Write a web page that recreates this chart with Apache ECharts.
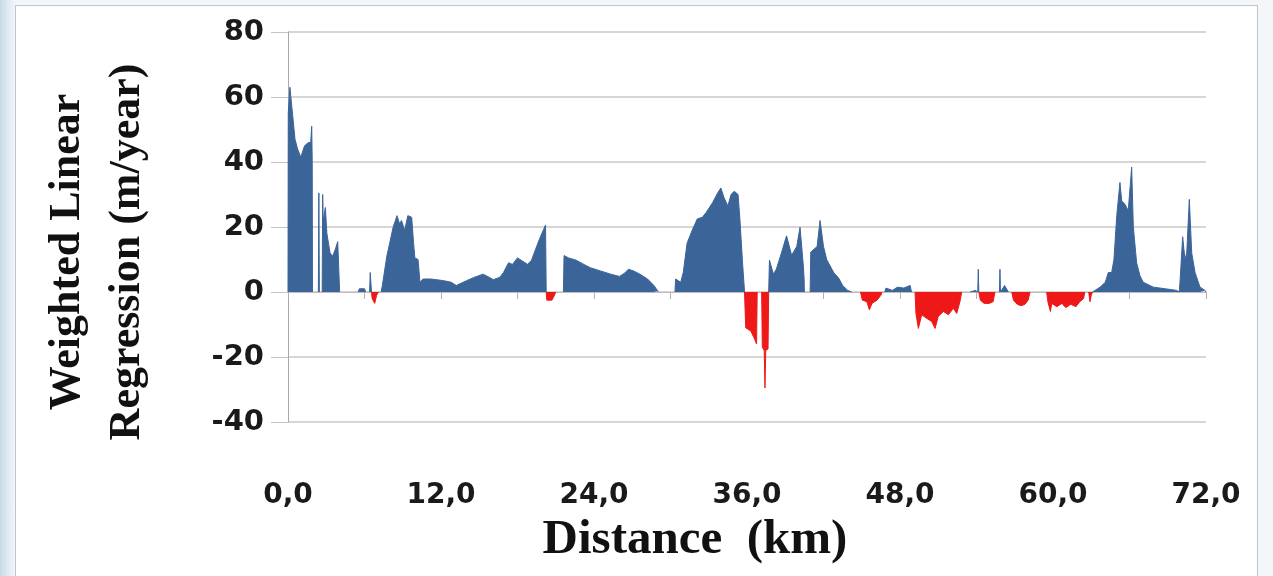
<!DOCTYPE html>
<html>
<head>
<meta charset="utf-8">
<title>Weighted Linear Regression</title>
<script src="https://cdn.jsdelivr.net/npm/echarts@6/dist/echarts.min.js"></script>
<style>
  html, body { margin: 0; padding: 0; }
  body {
    width: 1273px; height: 576px; overflow: hidden; position: relative;
    background: linear-gradient(90deg, #c9dae6 0px, #e4edf4 10px, #f3f7fa 16px, #f3f7fa 100%);
  }
  #card {
    position: absolute; left: 15px; top: 5px; width: 1241px; height: 590px;
    background: #fff; border: 1px solid #c4c4c4;
  }
  #chart { position: absolute; left: 0; top: 0; width: 1273px; height: 576px; }
</style>
</head>
<body>
<div id="card"></div>
<div id="chart"></div>
<script>
// distance along the coast (km) and rate (m/year)
// null = stretch with no data (gap in the fill)
const distanceKm = [
  0, 0.02, 0.15, 0.3, 0.55, 0.75, 1.0, 1.3, 1.6, 1.78, 1.86, 1.9, 1.92, 2.1,
  2.38, 2.42, 2.46, 2.55, 2.68, 2.72, 2.76, 2.85, 2.93, 3.05, 3.3, 3.5, 3.7, 3.9, 4.0, 4.05, 4.8,
  5.5, 5.6, 6.0, 6.1, 6.25, 6.4, 6.45, 6.55, 6.6, 6.8, 6.95, 7.1, 7.2,
  7.3, 7.4, 7.75, 8.25, 8.55, 8.75, 8.9, 9.15, 9.4, 9.7, 9.85, 9.95, 10.2, 10.35, 10.6, 11.2,
  12.2, 12.8, 13.2, 14.0, 14.6, 15.3, 15.8, 16.1, 16.6, 16.9, 17.3, 17.6, 18.0, 18.4, 18.8,
  19.1, 19.4, 19.8, 20.2, 20.25, 20.3, 20.7, 20.9, 21.0, 21.3,
  21.6, 21.65, 22.0, 22.6, 23.2, 23.7, 24.5, 25.3, 26.0, 26.4, 26.7, 27.1, 27.6, 28.2, 28.7, 29.0, 29.05, 29.7,
  30.35, 30.4, 30.8, 31.0, 31.3, 31.7, 32.1, 32.5, 32.8, 33.3, 33.7, 33.95, 34.2, 34.5, 34.75,
  35.0, 35.3, 35.45, 35.65, 35.8,
  35.85, 35.9, 36.3, 36.6, 36.75, 36.8, 37.0, 37.15, 37.2, 37.35, 37.41, 37.47, 37.65, 37.7,
  37.74, 37.76, 38.07, 38.3, 38.7, 39.1, 39.5, 39.9, 40.16, 40.42, 40.48, 40.5, 40.7,
  40.95, 41.0, 41.5, 41.73, 42.0, 42.25, 42.8, 43.2, 43.5, 43.9, 44.2, 44.55,
  44.9, 45.05, 45.4, 45.6, 45.8, 46.2, 46.5, 46.6, 46.7,
  46.8, 46.9, 47.4, 47.8, 48.3, 48.8, 48.9, 49.05,
  49.18, 49.25, 49.44, 49.7, 50.09, 50.49, 50.75, 51.0, 51.4, 51.8, 52.18, 52.45, 52.7, 52.84, 53.2,
  53.5, 53.9, 54.1, 54.14, 54.18, 54.3, 54.6, 55.0, 55.3, 55.45, 55.6, 55.8, 55.84, 55.88, 56.2, 56.5, 56.6,
  56.76, 56.9, 57.2, 57.5, 57.8, 58.05, 58.2, 58.8,
  59.5, 59.6, 59.8, 59.9, 60.3, 60.7, 61.0, 61.4, 61.8, 62.1, 62.4, 62.5, 62.65,
  62.8, 62.9, 63.0, 63.1,
  63.69, 63.8, 64.1, 64.34, 64.6, 64.78, 65.0, 65.25, 65.39, 65.65, 65.9, 66.17, 66.3, 66.56,
  66.82, 67.08, 67.87, 68.8, 69.7, 69.9,
  69.96, 70.17, 70.35, 70.49, 70.69, 70.88, 71.14, 71.53, 71.92, 72
];
const rateMYear = [
  0, 55, 63, 57, 47, 44, 41.5, 45, 46, 46, 51, 40, 0, null,
  0, 30.5, 0, null, 0, 30, 22, 24, 26, 18, 12, 11, 13, 15.5, 15, 0, null,
  0, 1, 1, 0, null, 0, 6, 0, -2, -3.5, -1, 0, null,
  0, 2, 11, 20, 23.5, 21, 22, 19, 23.5, 23, 15, 10.5, 10, 3, 4, 4,
  3.5, 3, 2, 3.5, 4.5, 5.5, 4.5, 3.8, 4.5, 6, 9, 8.5, 10.5, 9.5, 8.5,
  9.8, 13, 17, 20.6, 0, -2.5, -2.5, -1, 0, null,
  0, 11.2, 10.5, 9.8, 8.5, 7.5, 6.5, 5.5, 4.8, 5.8, 7, 6.5, 5.5, 4, 2, 0.3, 0, null,
  0, 4, 3, 6, 15, 19, 22.5, 23, 24.5, 27.5, 30.5, 32, 29, 26.5, 30,
  31, 30, 22, 9, 0.5,
  0, -11, -12, -14.5, -16, 0, null, 0, -17, -18, -29.5, -18, -17.5, 0,
  0, 9.8, 5.5, 7, 12, 17.3, 11.3, 14, 19.9, 8, 4, 0, null,
  0, 12.3, 14, 22, 14, 10, 6, 4.2, 2, 0.5, 0, null,
  0, -2.5, -3, -5.5, -3.5, -2.5, -1, 0, null,
  0, 1.2, 0.5, 1.5, 1.2, 2, 0, null,
  0, -6.6, -11.2, -7, -8.1, -9.1, -11.2, -7.5, -6, -7, -5, -6.6, -3, 0, null,
  0, 0.5, 0, 7, 0, -2.5, -3.5, -3.5, -3, 0, null, 0, 7, 0, 2, 0, null,
  0, -2.5, -3.8, -4.2, -3.8, -2.5, 0, null,
  0, -3, -6, -3.5, -4.5, -3.5, -4.8, -3.8, -4.5, -3, -2, 0, null,
  0, -3, -1, 0,
  1.5, 2, 3, 6, 6, 10, 23.5, 33.7, 28, 27, 25, 38.4, 20, 9,
  5, 3, 1.5, 1, 0.5, 0,
  3, 17, 10, 12, 28.5, 12, 6, 1.5, 0.5, 0
];
const xLabels = ['0,0', '12,0', '24,0', '36,0', '48,0', '60,0', '72,0'];
const yTicks = [-40, -20, 0, 20, 40, 60, 80];

const points = distanceKm.map((d, i) => [d, rateMYear[i] === null ? '-' : rateMYear[i]]);

const chart = echarts.init(document.getElementById('chart'));
const tickFont = 'DejaVu Sans';
const titleFont = '"Liberation Serif"';

chart.setOption({
  backgroundColor: 'transparent',
  animation: false,
  grid: { left: 288, right: 67, top: 32, bottom: 154, containLabel: false },
  visualMap: {
    show: false,
    type: 'piecewise',
    seriesIndex: 0,
    dimension: 1,
    pieces: [
      { gte: -100, lt: 0, color: '#ee1818' },
      { gte: 0, lte: 100, color: '#3b6499' }
    ]
  },
  xAxis: [
    {
      type: 'value', min: 0, max: 72, interval: 6,
      axisLine: { onZero: true, lineStyle: { color: '#bdbdbd', width: 1 } },
      axisTick: { show: true, length: 7, lineStyle: { color: '#b0b0b0' } },
      axisLabel: { show: false },
      splitLine: { show: false }
    },
    {
      type: 'value', min: 0, max: 72, interval: 12, position: 'bottom',
      axisLine: { show: false, onZero: false },
      axisTick: { show: false },
      splitLine: { show: false },
      axisLabel: {
        margin: 60,
        color: '#1a1a1a',
        fontFamily: tickFont,
        fontWeight: 'bold',
        fontSize: 28,
        formatter: v => xLabels[v / 12]
      }
    }
  ],
  yAxis: {
    type: 'value', min: yTicks[0], max: yTicks[yTicks.length - 1], interval: 20,
    axisLine: { show: true, lineStyle: { color: '#a8a8a8' } },
    axisTick: { show: true, length: 17, lineStyle: { color: '#c4c4c4' } },
    splitLine: { lineStyle: { color: '#c8c8c8', width: 1.5 } },
    axisLabel: {
      margin: 24,
      color: '#1a1a1a',
      fontFamily: tickFont,
      fontWeight: 'bold',
      fontSize: 29
    }
  },
  graphic: [
    {
      type: 'text',
      x: 98, y: 252,
      rotation: Math.PI / 2,
      style: {
        text: 'Weighted Linear\nRegression (m/year)',
        font: 'bold 44px ' + titleFont,
        fill: '#111',
        align: 'center', verticalAlign: 'middle',
        textAlign: 'center', textVerticalAlign: 'middle',
        lineHeight: 60
      }
    },
    {
      type: 'text',
      x: 695, y: 540,
      style: {
        text: 'Distance  (km)',
        font: 'bold 49px ' + titleFont,
        fill: '#111',
        align: 'center', verticalAlign: 'middle',
        textAlign: 'center', textVerticalAlign: 'middle'
      }
    }
  ],
  series: [
    {
      type: 'line',
      xAxisIndex: 0,
      data: points,
      connectNulls: false,
      symbol: 'none',
      lineStyle: { width: 1 },
      areaStyle: { opacity: 1 }
    }
  ]
});
</script>
</body>
</html>
